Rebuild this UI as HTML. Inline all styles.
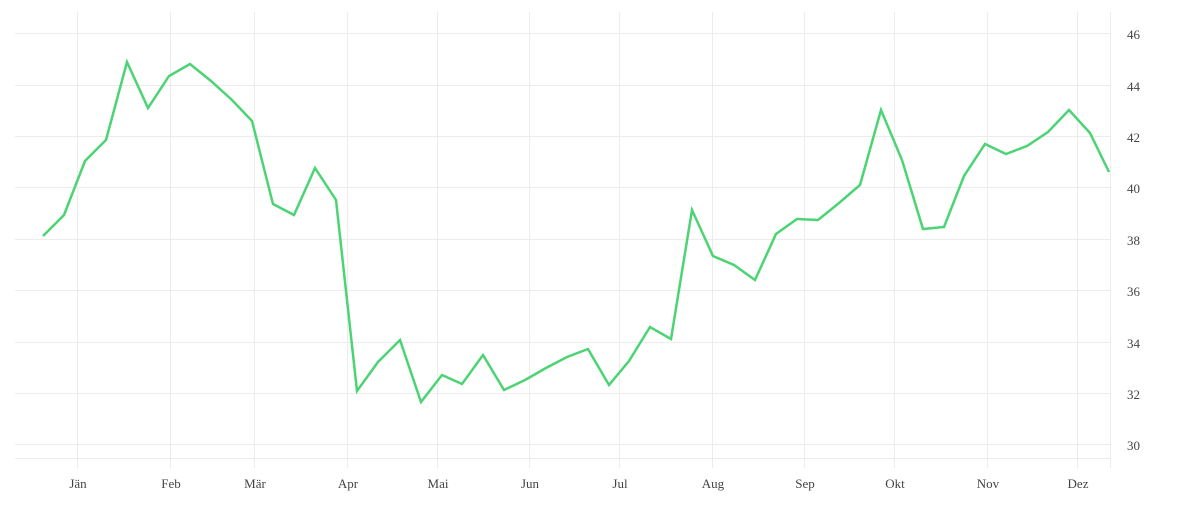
<!DOCTYPE html>
<html><head><meta charset="utf-8"><style>body{margin:0;background:#fff}</style></head><body>
<svg width="1200" height="500" xmlns="http://www.w3.org/2000/svg" font-family="Liberation Serif, serif" font-size="13" fill="#444">
<g stroke="#ececec" stroke-width="1">
<line x1="15" y1="33.5" x2="1110" y2="33.5"/><line x1="15" y1="85.5" x2="1110" y2="85.5"/><line x1="15" y1="136.5" x2="1110" y2="136.5"/><line x1="15" y1="187.5" x2="1110" y2="187.5"/><line x1="15" y1="239.5" x2="1110" y2="239.5"/><line x1="15" y1="290.5" x2="1110" y2="290.5"/><line x1="15" y1="342.5" x2="1110" y2="342.5"/><line x1="15" y1="393.5" x2="1110" y2="393.5"/><line x1="15" y1="444.5" x2="1110" y2="444.5"/><line x1="15" y1="458.5" x2="1110" y2="458.5"/>
<line x1="77.5" y1="12" x2="77.5" y2="468"/><line x1="170.5" y1="12" x2="170.5" y2="468"/><line x1="254.5" y1="12" x2="254.5" y2="468"/><line x1="347.5" y1="12" x2="347.5" y2="468"/><line x1="437.5" y1="12" x2="437.5" y2="468"/><line x1="529.5" y1="12" x2="529.5" y2="468"/><line x1="619.5" y1="12" x2="619.5" y2="468"/><line x1="712.5" y1="12" x2="712.5" y2="468"/><line x1="804.5" y1="12" x2="804.5" y2="468"/><line x1="894.5" y1="12" x2="894.5" y2="468"/><line x1="987.5" y1="12" x2="987.5" y2="468"/><line x1="1077.5" y1="12" x2="1077.5" y2="468"/><line x1="1110.5" y1="12" x2="1110.5" y2="468"/>
</g>
<polyline fill="none" stroke="#4cd474" stroke-width="2.5" stroke-linejoin="miter" points="43,236 64,215 85,161 106,140 127,62 148,108 169,76 190,64 211,81 232,100 252,121 273,204 294,215 315,168 336,200 357,391 378,362 400,340 421,402 442,375 462,384 483,355 504,390 525,380 546,368 567,357 588,349 609,385 629,361 650,327 671,339 692,210 713,256 734,265 755,280 776,234 797,219 818,220 839,203 860,185 881,110 902,160 923,229 944,227 964,176 985,144 1006,154 1027,146 1048,132 1069,110 1090,133 1109,172"/>
<g text-anchor="start">
<text x="1127" y="39">46</text><text x="1127" y="91">44</text><text x="1127" y="142">42</text><text x="1127" y="193">40</text><text x="1127" y="245">38</text><text x="1127" y="296">36</text><text x="1127" y="348">34</text><text x="1127" y="399">32</text><text x="1127" y="450">30</text>
</g>
<g text-anchor="middle">
<text x="78" y="488">Jän</text><text x="171" y="488">Feb</text><text x="255" y="488">Mär</text><text x="348" y="488">Apr</text><text x="438" y="488">Mai</text><text x="530" y="488">Jun</text><text x="620" y="488">Jul</text><text x="713" y="488">Aug</text><text x="805" y="488">Sep</text><text x="895" y="488">Okt</text><text x="988" y="488">Nov</text><text x="1078" y="488">Dez</text>
</g>
</svg>
</body></html>
